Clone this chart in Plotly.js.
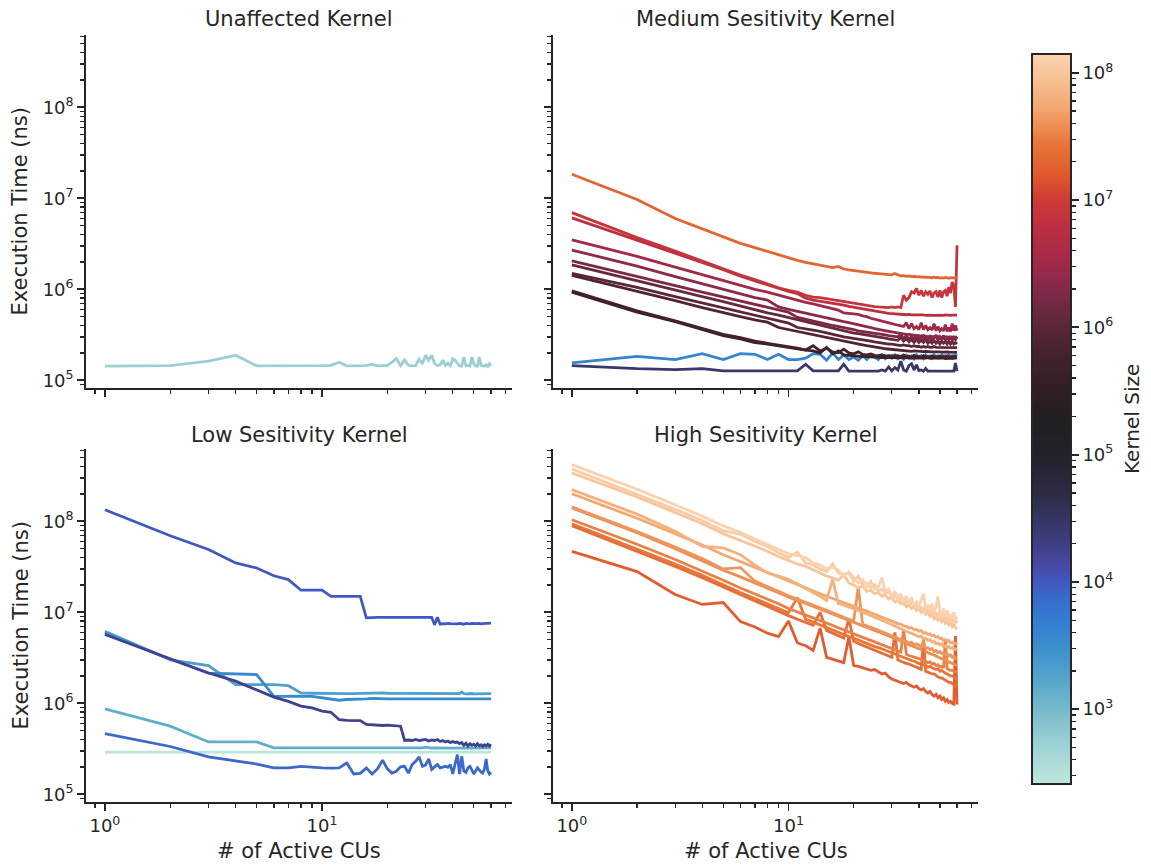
<!DOCTYPE html>
<html>
<head>
<meta charset="utf-8">
<script src="https://cdn.plot.ly/plotly-3.0.1.min.js"></script>
<style>
  html, body { margin: 0; padding: 0; background: #ffffff; }
  #chart { width: 1151px; height: 865px; }
</style>
</head>
<body>
<div id="chart"></div>
<script>
// Number of active compute units (x axis, shared by every series)
const CUS = [1,2,3,4,5,6,7,8,9,10,11,12,13,14,15,16,17,18,19,20,
             21,22,23,24,25,26,27,28,29,30,31,32,33,34,35,36,37,38,39,40,
             41,42,43,44,45,46,47,48,49,50,51,52,53,54,55,56,57,58,59,60];

// Kernel-size colour limits (log-scaled hue)
const KERNEL_MIN = 263;
const KERNEL_MAX = 1.38e8;

// ---------- Unaffected kernel ----------
const UNAFFECTED_SIZES = [560];
const U_560 = [1.43e5,1.45e5,1.62e5,1.88e5,1.44e5,1.44e5,1.43e5,1.44e5,1.44e5,1.45e5,
  1.46e5,1.58e5,1.44e5,1.44e5,1.46e5,1.45e5,1.50e5,1.44e5,1.45e5,1.45e5,
  1.58e5,1.73e5,1.45e5,1.67e5,1.46e5,1.44e5,1.45e5,1.71e5,1.52e5,1.88e5,
  1.66e5,1.88e5,1.52e5,1.45e5,1.48e5,1.66e5,1.46e5,1.54e5,1.45e5,1.73e5,
  1.66e5,1.52e5,1.44e5,1.43e5,1.80e5,1.44e5,1.46e5,1.43e5,1.80e5,1.52e5,
  1.44e5,1.43e5,1.80e5,1.46e5,1.44e5,1.43e5,1.48e5,1.42e5,1.52e5,1.44e5];

// ---------- Medium sensitivity kernels ----------
const MEDIUM_SIZES = [2.0e7, 8.0e6, 6.0e6, 3.2e6, 2.4e6, 1.8e6, 1.3e6, 1.0e6, 8.0e5, 6.0e5, 4.5e5, 4.0e3, 2.8e4];
const M_A = [1.84e7,9.7e6,6.0e6,4.6e6,3.8e6,3.2e6,2.87e6,2.6e6,2.37e6,2.2e6,
  2.08e6,1.98e6,1.9e6,1.82e6,1.76e6,1.73e6,1.78e6,1.67e6,1.63e6,1.6e6,
  1.58e6,1.55e6,1.53e6,1.51e6,1.5e6,1.49e6,1.48e6,1.46e6,1.45e6,1.44e6,
  1.49e6,1.43e6,1.4e6,1.41e6,1.39e6,1.4e6,1.38e6,1.39e6,1.37e6,1.38e6,
  1.36e6,1.37e6,1.35e6,1.36e6,1.35e6,1.34e6,1.36e6,1.34e6,1.35e6,1.33e6,
  1.34e6,1.33e6,1.35e6,1.33e6,1.32e6,1.34e6,1.33e6,1.32e6,1.33e6,1.34e6];
const M_B = [6.95e6,3.7e6,2.63e6,2.04e6,1.69e6,1.43e6,1.28e6,1.14e6,1.04e6,9.75e5,
  9.3e5,8.6e5,8.2e5,8.1e5,7.9e5,7.7e5,7.6e5,7.45e5,7.3e5,7.1e5,
  7.0e5,6.8e5,6.65e5,6.5e5,6.45e5,6.4e5,6.35e5,6.4e5,6.3e5,6.4e5,
  6.3e5,6.4e5,6.3e5,8.6e5,7.6e5,8.1e5,9.4e5,9.1e5,1.02e6,8.6e5,
  9.75e5,8.4e5,9.4e5,8.8e5,9.6e5,8.1e5,9.1e5,9.4e5,8.2e5,9.75e5,
  8.1e5,9.4e5,9.75e5,8.4e5,1.06e6,9.1e5,1.2e6,1.1e6,6.4e5,3.05e6];
const M_C = [6.1e6,3.45e6,2.5e6,1.98e6,1.64e6,1.39e6,1.24e6,1.11e6,1.02e6,9.5e5,
  8.97e5,8.0e5,7.6e5,7.4e5,7.2e5,7.0e5,6.85e5,6.7e5,6.5e5,6.35e5,
  6.2e5,6.1e5,6.0e5,5.87e5,5.8e5,5.7e5,5.6e5,5.5e5,5.45e5,5.41e5,
  5.35e5,5.3e5,5.32e5,5.28e5,5.25e5,5.3e5,5.22e5,5.24e5,5.2e5,5.25e5,
  5.2e5,5.22e5,5.18e5,5.24e5,5.2e5,5.18e5,5.22e5,5.18e5,5.2e5,5.17e5,
  5.2e5,5.18e5,5.22e5,5.17e5,5.19e5,5.17e5,5.2e5,5.18e5,5.19e5,5.2e5];
const M_D = [3.5e6,2.3e6,1.75e6,1.45e6,1.25e6,1.1e6,1.0e6,9.3e5,8.6e5,8.0e5,
  7.6e5,7.2e5,6.9e5,6.6e5,6.3e5,6.1e5,5.9e5,5.5e5,5.4e5,5.3e5,
  5.3e5,5.1e5,5.0e5,4.8e5,4.7e5,4.6e5,4.5e5,4.4e5,4.3e5,4.2e5,
  4.1e5,4.05e5,4.0e5,3.9e5,4.3e5,3.7e5,4.2e5,3.7e5,3.9e5,3.6e5,
  4.3e5,3.6e5,4.0e5,3.6e5,3.8e5,3.55e5,4.2e5,3.5e5,3.9e5,3.5e5,
  3.7e5,3.5e5,4.1e5,3.45e5,3.8e5,3.45e5,4.2e5,3.5e5,4.0e5,3.5e5];
const M_E = [2.7e6,1.8e6,1.38e6,1.15e6,1.0e6,8.9e5,8.1e5,7.6e5,6.4e5,6.0e5,
  5.7e5,5.4e5,5.2e5,5.0e5,4.8e5,4.65e5,4.5e5,4.4e5,4.3e5,4.2e5,
  4.1e5,4.0e5,3.9e5,3.8e5,3.7e5,3.65e5,3.6e5,3.5e5,3.45e5,3.4e5,
  3.35e5,3.3e5,3.3e5,3.25e5,3.2e5,3.2e5,3.15e5,3.15e5,3.1e5,3.1e5,
  3.05e5,3.1e5,3.05e5,3.0e5,3.05e5,3.0e5,3.0e5,3.05e5,3.0e5,3.0e5,
  2.98e5,3.0e5,2.98e5,3.0e5,2.97e5,3.0e5,2.98e5,2.97e5,3.0e5,2.98e5];
const M_F = [2.05e6,1.4e6,1.1e6,9.3e5,8.2e5,7.4e5,6.8e5,6.3e5,5.9e5,5.6e5,
  4.9e5,4.7e5,4.5e5,4.3e5,4.15e5,4.0e5,3.9e5,3.8e5,3.7e5,3.6e5,
  3.5e5,3.45e5,3.4e5,3.35e5,3.3e5,3.25e5,3.2e5,3.15e5,3.1e5,3.05e5,
  3.0e5,3.0e5,3.2e5,2.85e5,3.1e5,2.8e5,3.05e5,2.8e5,3.15e5,2.8e5,
  3.0e5,2.75e5,3.1e5,2.8e5,3.0e5,2.75e5,2.9e5,3.15e5,2.75e5,3.0e5,
  2.8e5,3.1e5,2.75e5,2.95e5,2.8e5,3.05e5,2.75e5,2.95e5,2.8e5,3.0e5];
const M_G = [1.85e6,1.25e6,9.8e5,8.3e5,7.3e5,6.5e5,6.0e5,5.5e5,5.2e5,4.9e5,
  4.6e5,4.4e5,4.2e5,4.0e5,3.85e5,3.7e5,3.6e5,3.5e5,3.4e5,3.3e5,
  3.25e5,3.2e5,3.15e5,3.1e5,3.05e5,3.0e5,2.95e5,2.9e5,2.85e5,2.8e5,
  2.8e5,2.75e5,2.95e5,2.7e5,2.85e5,2.65e5,2.8e5,2.6e5,2.85e5,2.6e5,
  2.75e5,2.6e5,2.8e5,2.55e5,2.7e5,2.55e5,2.75e5,2.55e5,2.7e5,2.5e5,
  2.7e5,2.55e5,2.65e5,2.5e5,2.7e5,2.5e5,2.65e5,2.5e5,2.6e5,2.5e5];
const M_H = [1.5e6,1.05e6,8.3e5,7.1e5,6.3e5,5.7e5,5.2e5,4.8e5,4.5e5,4.25e5,
  3.8e5,3.7e5,3.55e5,3.45e5,3.3e5,3.2e5,3.1e5,3.0e5,2.95e5,2.9e5,
  2.85e5,2.8e5,2.75e5,2.7e5,2.65e5,2.6e5,2.55e5,2.55e5,2.5e5,2.5e5,
  2.45e5,2.45e5,2.4e5,2.45e5,2.4e5,2.4e5,2.35e5,2.4e5,2.35e5,2.35e5,
  2.3e5,2.35e5,2.3e5,2.35e5,2.3e5,2.3e5,2.35e5,2.3e5,2.3e5,2.28e5,
  2.3e5,2.28e5,2.3e5,2.28e5,2.27e5,2.3e5,2.28e5,2.27e5,2.3e5,2.28e5];
const M_I = [1.42e6,9.6e5,7.5e5,6.3e5,5.5e5,5.0e5,4.6e5,4.35e5,3.8e5,3.6e5,
  3.45e5,3.3e5,3.15e5,3.05e5,2.95e5,2.85e5,2.75e5,2.7e5,2.6e5,2.55e5,
  2.5e5,2.45e5,2.4e5,2.35e5,2.3e5,2.28e5,2.25e5,2.22e5,2.2e5,2.18e5,
  2.15e5,2.15e5,2.12e5,2.1e5,2.12e5,2.1e5,2.08e5,2.1e5,2.08e5,2.07e5,
  2.08e5,2.06e5,2.07e5,2.05e5,2.07e5,2.05e5,2.05e5,2.06e5,2.04e5,2.05e5,
  2.04e5,2.05e5,2.03e5,2.05e5,2.04e5,2.03e5,2.05e5,2.03e5,2.04e5,2.03e5];
const M_J = [9.6e5,5.8e5,4.5e5,3.7e5,3.2e5,2.95e5,2.7e5,2.55e5,2.45e5,2.35e5,
  2.25e5,2.15e5,2.4e5,2.1e5,2.25e5,2.05e5,2.0e5,2.2e5,2.0e5,1.95e5,
  2.05e5,1.92e5,1.9e5,1.95e5,1.88e5,1.87e5,1.9e5,1.85e5,1.85e5,1.84e5,
  1.83e5,1.86e5,1.82e5,1.9e5,1.81e5,1.85e5,1.8e5,1.88e5,1.8e5,1.84e5,
  1.79e5,1.86e5,1.8e5,1.83e5,1.79e5,1.85e5,1.8e5,1.82e5,1.79e5,1.84e5,
  1.8e5,1.83e5,1.79e5,1.85e5,1.8e5,1.82e5,1.79e5,1.84e5,1.8e5,1.82e5];
const M_K = [9.3e5,5.6e5,4.4e5,3.6e5,3.1e5,2.85e5,2.6e5,2.5e5,2.38e5,2.3e5,
  2.22e5,2.14e5,2.1e5,2.0e5,2.3e5,1.95e5,2.1e5,1.9e5,1.88e5,1.85e5,
  1.85e5,1.82e5,1.82e5,1.8e5,1.8e5,1.78e5,1.78e5,1.77e5,1.77e5,1.76e5,
  1.76e5,1.78e5,1.75e5,1.77e5,1.75e5,1.76e5,1.74e5,1.77e5,1.75e5,1.76e5,
  1.74e5,1.76e5,1.75e5,1.77e5,1.74e5,1.75e5,1.74e5,1.76e5,1.74e5,1.75e5,
  1.74e5,1.76e5,1.73e5,1.75e5,1.74e5,1.75e5,1.73e5,1.75e5,1.74e5,1.75e5];
const M_L = [1.55e5,1.83e5,1.69e5,1.96e5,1.69e5,1.96e5,1.93e5,1.69e5,1.93e5,1.69e5,
  1.69e5,1.75e5,1.96e5,1.93e5,1.66e5,2.0e5,1.69e5,1.9e5,1.69e5,1.8e5,
  1.66e5,1.86e5,1.69e5,1.9e5,1.8e5,1.69e5,1.9e5,1.72e5,1.86e5,1.75e5,
  1.9e5,1.72e5,1.83e5,1.7e5,1.88e5,1.75e5,1.85e5,1.72e5,1.9e5,1.78e5,
  1.86e5,1.74e5,1.9e5,1.8e5,1.85e5,1.75e5,1.9e5,1.8e5,1.86e5,1.78e5,
  1.9e5,1.82e5,1.86e5,1.8e5,1.9e5,1.82e5,1.87e5,1.8e5,1.9e5,1.84e5];
const M_M = [1.45e5,1.34e5,1.31e5,1.34e5,1.27e5,1.27e5,1.27e5,1.27e5,1.27e5,1.27e5,
  1.27e5,1.5e5,1.27e5,1.27e5,1.27e5,1.27e5,1.27e5,1.5e5,1.26e5,1.26e5,
  1.26e5,1.26e5,1.26e5,1.26e5,1.26e5,1.26e5,1.3e5,1.26e5,1.4e5,1.27e5,
  1.38e5,1.3e5,1.62e5,1.3e5,1.26e5,1.45e5,1.52e5,1.3e5,1.48e5,1.28e5,
  1.3e5,1.26e5,1.35e5,1.26e5,1.26e5,1.27e5,1.26e5,1.26e5,1.27e5,1.26e5,
  1.26e5,1.27e5,1.26e5,1.26e5,1.26e5,1.27e5,1.26e5,1.26e5,1.55e5,1.26e5];
const MEDIUM_SERIES = [M_A, M_B, M_C, M_D, M_E, M_F, M_G, M_H, M_I, M_J, M_K, M_L, M_M];

// ---------- Low sensitivity kernels ----------
const LOW_SIZES = [1.0e4, 2.0e3, 3.5e3, 1.8e4, 1.4e3, 280, 7.5e3];
const L_A = [1.34e8,6.95e7,4.9e7,3.49e7,3.07e7,2.52e7,2.29e7,1.75e7,1.75e7,1.75e7,
  1.5e7,1.5e7,1.5e7,1.5e7,1.5e7,8.7e6,8.8e6,8.8e6,8.8e6,8.8e6,
  8.8e6,8.85e6,8.8e6,8.85e6,8.85e6,8.8e6,8.8e6,8.85e6,8.8e6,8.8e6,
  8.75e6,8.8e6,7.3e6,8.8e6,7.4e6,7.5e6,7.45e6,7.55e6,7.5e6,7.45e6,
  7.5e6,7.45e6,7.55e6,7.5e6,7.4e6,7.55e6,7.5e6,7.45e6,7.55e6,7.5e6,
  7.45e6,7.5e6,7.55e6,7.45e6,7.5e6,7.55e6,7.5e6,7.6e6,7.55e6,7.6e6];
const L_B = [6.2e6,3.0e6,2.6e6,1.6e6,1.6e6,1.6e6,1.56e6,1.3e6,1.29e6,1.28e6,
  1.28e6,1.27e6,1.28e6,1.28e6,1.29e6,1.3e6,1.3e6,1.3e6,1.3e6,1.29e6,
  1.29e6,1.28e6,1.28e6,1.29e6,1.28e6,1.28e6,1.29e6,1.28e6,1.28e6,1.27e6,
  1.28e6,1.28e6,1.28e6,1.27e6,1.28e6,1.28e6,1.27e6,1.28e6,1.28e6,1.27e6,
  1.28e6,1.27e6,1.28e6,1.33e6,1.28e6,1.27e6,1.28e6,1.27e6,1.28e6,1.27e6,
  1.27e6,1.28e6,1.27e6,1.27e6,1.28e6,1.27e6,1.27e6,1.28e6,1.27e6,1.28e6];
const L_C = [5.95e6,3.05e6,2.15e6,2.1e6,2.07e6,1.19e6,1.2e6,1.2e6,1.19e6,1.15e6,
  1.12e6,1.08e6,1.1e6,1.1e6,1.12e6,1.12e6,1.13e6,1.12e6,1.12e6,1.12e6,
  1.12e6,1.13e6,1.12e6,1.12e6,1.12e6,1.13e6,1.12e6,1.12e6,1.12e6,1.12e6,
  1.13e6,1.12e6,1.12e6,1.12e6,1.12e6,1.12e6,1.13e6,1.12e6,1.12e6,1.12e6,
  1.12e6,1.12e6,1.13e6,1.12e6,1.12e6,1.12e6,1.12e6,1.12e6,1.13e6,1.12e6,
  1.12e6,1.12e6,1.12e6,1.12e6,1.13e6,1.12e6,1.12e6,1.12e6,1.12e6,1.12e6];
const L_D = [5.7e6,3.1e6,2.15e6,1.75e6,1.41e6,1.17e6,1.05e6,9.3e5,8.9e5,8.2e5,
  7.96e5,6.6e5,6.5e5,6.5e5,6.45e5,5.87e5,5.8e5,5.8e5,5.7e5,5.75e5,
  5.7e5,5.75e5,5.6e5,3.9e5,3.95e5,3.9e5,4.0e5,3.9e5,3.95e5,4.0e5,
  3.85e5,3.95e5,3.9e5,4.0e5,3.8e5,3.9e5,3.75e5,3.85e5,3.7e5,3.8e5,
  3.7e5,3.75e5,3.6e5,3.7e5,3.45e5,3.65e5,3.4e5,3.6e5,3.45e5,3.55e5,
  3.4e5,3.6e5,3.4e5,3.5e5,3.35e5,3.5e5,3.4e5,3.55e5,3.4e5,3.55e5];
const L_E = [8.7e5,5.6e5,3.76e5,3.76e5,3.76e5,3.23e5,3.23e5,3.22e5,3.23e5,3.22e5,
  3.22e5,3.23e5,3.22e5,3.22e5,3.23e5,3.22e5,3.22e5,3.23e5,3.22e5,3.22e5,
  3.23e5,3.22e5,3.22e5,3.23e5,3.22e5,3.22e5,3.23e5,3.22e5,3.24e5,3.3e5,
  3.25e5,3.22e5,3.23e5,3.22e5,3.22e5,3.23e5,3.22e5,3.22e5,3.23e5,3.22e5,
  3.22e5,3.23e5,3.22e5,3.22e5,3.23e5,3.22e5,3.22e5,3.23e5,3.22e5,3.22e5,
  3.23e5,3.22e5,3.22e5,3.23e5,3.22e5,3.22e5,3.23e5,3.22e5,3.22e5,3.23e5];
const L_F = [2.9e5,2.9e5,2.9e5,2.9e5,2.9e5,2.9e5,2.9e5,2.9e5,2.9e5,2.9e5,
  2.9e5,2.9e5,2.9e5,2.9e5,2.9e5,2.9e5,2.9e5,2.9e5,2.9e5,2.9e5,
  2.9e5,2.9e5,2.9e5,2.9e5,2.9e5,2.9e5,2.9e5,2.9e5,2.9e5,2.9e5,
  2.9e5,2.9e5,2.9e5,2.9e5,2.9e5,2.9e5,2.9e5,2.9e5,2.9e5,2.9e5,
  2.9e5,2.9e5,2.9e5,2.9e5,2.9e5,2.9e5,2.9e5,2.9e5,2.9e5,2.9e5,
  2.9e5,2.9e5,2.9e5,2.9e5,2.9e5,2.9e5,2.9e5,2.9e5,2.9e5,2.9e5];
const L_G = [4.65e5,3.35e5,2.57e5,2.3e5,2.15e5,1.95e5,1.95e5,2.03e5,1.98e5,1.95e5,
  1.94e5,1.95e5,2.21e5,1.67e5,1.7e5,1.95e5,1.67e5,1.9e5,2.37e5,1.9e5,
  1.71e5,1.79e5,2.0e5,2.03e5,1.71e5,2.12e5,2.3e5,2.57e5,2.03e5,2.1e5,
  2.45e5,1.87e5,2.0e5,2.12e5,1.95e5,2.0e5,2.03e5,1.98e5,2.12e5,1.67e5,
  2.2e5,2.73e5,1.67e5,2.62e5,1.8e5,1.74e5,1.95e5,2.03e5,1.85e5,1.67e5,
  1.8e5,1.95e5,1.85e5,1.75e5,1.71e5,1.9e5,2.45e5,1.8e5,1.67e5,1.75e5];
const LOW_SERIES = [L_A, L_B, L_C, L_D, L_E, L_F, L_G];

// ---------- High sensitivity kernels ----------
const HIGH_SIZES = [1.35e8, 1.15e8, 9.5e7, 6.5e7, 5.5e7, 4.2e7, 3.8e7, 3.2e7, 2.8e7, 2.4e7, 1.7e7];
const H_A = [4.2e8,2.25e8,1.52e8,1.14e8,8.9e7,7.6e7,6.4e7,5.6e7,4.9e7,4.4e7,
  4.2e7,4.0e7,3.5e7,3.3e7,3.0e7,3.2e7,2.9e7,2.5e7,2.8e7,2.4e7,
  2.1e7,2.3e7,1.9e7,2.2e7,1.8e7,1.9e7,2.4e7,1.7e7,1.8e7,1.5e7,
  1.7e7,1.45e7,1.6e7,1.3e7,1.5e7,1.25e7,1.45e7,1.2e7,1.3e7,1.15e7,
  1.35e7,1.6e7,1.1e7,1.2e7,1.05e7,1.25e7,1.0e7,1.15e7,1.5e7,1.0e7,
  9.5e6,1.1e7,9.0e6,1.05e7,8.8e6,9.5e6,8.5e6,1.0e7,8.2e6,9.0e6];
const H_B = [3.76e8,2.0e8,1.36e8,1.02e8,7.9e7,7.2e7,6.0e7,5.3e7,4.5e7,4.0e7,
  4.6e7,3.5e7,3.3e7,3.0e7,2.8e7,3.4e7,2.7e7,2.6e7,2.7e7,2.2e7,
  2.5e7,2.0e7,2.1e7,1.85e7,2.0e7,1.7e7,1.8e7,1.6e7,1.75e7,1.4e7,
  1.55e7,1.35e7,1.45e7,1.25e7,1.35e7,1.2e7,1.3e7,1.1e7,1.25e7,1.05e7,
  1.15e7,1.0e7,1.2e7,9.8e6,1.1e7,9.5e6,1.05e7,9.0e6,1.0e7,8.8e6,
  9.8e6,8.5e6,9.5e6,8.0e6,9.0e6,7.8e6,8.5e6,7.5e6,8.2e6,7.6e6];
const H_C = [3.4e8,1.85e8,1.25e8,9.4e7,7.3e7,6.2e7,5.4e7,4.7e7,4.1e7,3.7e7,
  3.4e7,3.2e7,2.9e7,2.7e7,2.5e7,2.4e7,2.25e7,2.6e7,2.1e7,2.0e7,
  1.85e7,1.95e7,1.7e7,1.75e7,1.6e7,1.65e7,1.5e7,1.55e7,1.4e7,1.45e7,
  1.3e7,1.35e7,1.25e7,1.3e7,1.15e7,1.2e7,1.1e7,1.15e7,1.05e7,1.1e7,
  1.0e7,1.05e7,9.5e6,1.0e7,9.0e6,9.5e6,8.5e6,9.0e6,8.2e6,8.6e6,
  7.9e6,8.3e6,7.6e6,8.0e6,7.3e6,7.7e6,7.0e6,7.4e6,6.8e6,6.5e6];
const H_D = [2.23e8,1.2e8,7.8e7,5.3e7,5.1e7,4.3e7,3.3e7,2.7e7,2.5e7,2.3e7,
  2.05e7,1.85e7,1.65e7,1.5e7,1.35e7,2.3e7,1.25e7,1.2e7,1.15e7,1.1e7,
  1.05e7,1.0e7,9.6e6,9.2e6,8.8e6,8.6e6,8.2e6,7.9e6,7.6e6,7.3e6,
  7.1e6,6.8e6,6.6e6,6.4e6,6.2e6,6.0e6,5.9e6,5.7e6,5.6e6,5.4e6,
  5.5e6,5.1e6,5.2e6,4.9e6,5.0e6,4.7e6,4.8e6,4.5e6,4.6e6,4.4e6,
  4.5e6,4.2e6,4.3e6,4.1e6,4.2e6,4.0e6,4.1e6,3.9e6,4.0e6,3.8e6];
const H_E = [2.01e8,1.08e8,7.3e7,5.5e7,4.3e7,3.6e7,3.1e7,2.75e7,2.45e7,2.2e7,
  2.0e7,1.85e7,1.7e7,1.6e7,1.5e7,1.42e7,1.35e7,1.28e7,1.22e7,1.16e7,
  1.12e7,1.07e7,1.03e7,9.9e6,9.5e6,9.2e6,8.8e6,8.6e6,8.3e6,8.0e6,
  7.8e6,7.5e6,7.4e6,7.1e6,7.0e6,6.7e6,6.8e6,6.4e6,6.5e6,6.2e6,
  6.3e6,5.9e6,6.0e6,5.7e6,5.8e6,5.5e6,5.6e6,5.3e6,5.4e6,5.1e6,
  5.2e6,4.9e6,5.0e6,4.8e6,4.9e6,4.6e6,4.7e6,4.5e6,4.6e6,4.4e6];
const H_F = [1.44e8,7.7e7,5.2e7,3.9e7,3.0e7,3.1e7,2.2e7,1.9e7,1.7e7,1.52e7,
  1.4e7,1.3e7,1.2e7,1.12e7,1.05e7,9.8e6,9.3e6,8.8e6,8.4e6,8.0e6,
  1.9e7,7.4e6,7.1e6,6.8e6,6.5e6,6.3e6,6.0e6,5.9e6,5.7e6,5.5e6,
  5.3e6,5.2e6,5.0e6,4.9e6,4.8e6,4.6e6,4.7e6,4.4e6,4.5e6,4.3e6,
  4.2e6,4.3e6,4.0e6,4.1e6,3.9e6,4.0e6,3.7e6,3.8e6,3.6e6,3.7e6,
  3.5e6,3.6e6,3.4e6,3.5e6,3.3e6,3.4e6,3.2e6,3.3e6,3.1e6,3.2e6];
const H_G = [1.40e8,7.5e7,5.0e7,3.7e7,2.9e7,2.45e7,2.1e7,1.85e7,1.63e7,1.46e7,
  1.34e7,1.25e7,1.16e7,1.08e7,1.01e7,9.5e6,9.0e6,8.5e6,8.1e6,7.7e6,
  7.3e6,7.1e6,6.8e6,6.5e6,6.3e6,6.1e6,5.9e6,5.7e6,5.5e6,5.3e6,
  5.1e6,5.0e6,4.8e6,4.7e6,4.5e6,4.4e6,4.3e6,4.2e6,4.1e6,4.0e6,
  3.9e6,5.0e6,3.7e6,3.6e6,3.5e6,3.45e6,3.4e6,3.3e6,3.2e6,3.15e6,
  3.1e6,3.0e6,3.0e6,2.9e6,2.85e6,2.8e6,2.75e6,2.7e6,2.65e6,2.6e6];
const H_H = [1.04e8,5.6e7,3.8e7,2.85e7,2.25e7,1.85e7,1.6e7,1.4e7,1.24e7,1.1e7,
  1.0e7,9.3e6,8.7e6,8.1e6,7.6e6,7.1e6,6.7e6,6.4e6,6.0e6,5.8e6,
  5.5e6,5.3e6,5.1e6,4.9e6,4.7e6,4.6e6,4.4e6,4.3e6,4.15e6,4.0e6,
  3.9e6,3.75e6,3.65e6,6.5e6,3.45e6,3.35e6,3.3e6,3.2e6,3.15e6,3.1e6,
  3.0e6,2.95e6,2.9e6,2.8e6,2.85e6,2.7e6,2.75e6,2.6e6,2.65e6,2.5e6,
  2.55e6,2.45e6,5.0e6,2.4e6,2.35e6,2.3e6,2.3e6,2.25e6,2.2e6,2.2e6];
const H_I = [9.4e7,5.0e7,3.4e7,2.55e7,2.0e7,1.65e7,1.42e7,1.25e7,1.1e7,9.9e6,
  1.45e7,8.4e6,7.8e6,7.2e6,6.8e6,6.4e6,6.0e6,5.7e6,5.4e6,5.2e6,
  4.95e6,4.75e6,4.55e6,4.4e6,4.2e6,4.1e6,3.95e6,3.85e6,3.7e6,3.6e6,
  3.45e6,3.35e6,3.3e6,3.2e6,3.1e6,3.0e6,2.95e6,2.9e6,2.8e6,2.75e6,
  2.7e6,2.65e6,2.6e6,2.5e6,2.55e6,2.45e6,2.4e6,2.35e6,2.4e6,2.25e6,
  2.3e6,2.2e6,2.15e6,2.1e6,2.05e6,2.0e6,2.0e6,1.95e6,1.9e6,1.8e6];
const H_J = [8.96e7,4.7e7,3.2e7,2.4e7,1.9e7,1.55e7,1.32e7,1.16e7,1.03e7,9.2e6,
  8.4e6,7.8e6,7.2e6,1.0e7,6.3e6,5.9e6,5.5e6,5.2e6,8.5e6,4.8e6,
  4.55e6,4.35e6,4.2e6,4.0e6,3.85e6,3.7e6,3.55e6,3.45e6,3.3e6,3.2e6,
  6.0e6,3.0e6,2.9e6,2.85e6,2.75e6,2.7e6,2.6e6,2.55e6,2.5e6,2.4e6,
  2.35e6,5.0e6,2.25e6,2.2e6,2.15e6,2.1e6,2.1e6,2.0e6,1.95e6,1.9e6,
  1.9e6,1.85e6,1.8e6,1.75e6,1.7e6,1.7e6,1.65e6,1.6e6,1.6e6,1.5e6];
const H_K = [4.68e7,2.8e7,1.57e7,1.22e7,1.28e7,7.9e6,6.9e6,5.9e6,5.4e6,8.0e6,
  4.6e6,4.3e6,3.8e6,6.7e6,3.2e6,3.05e6,2.9e6,2.8e6,5.4e6,2.6e6,
  2.55e6,2.45e6,2.4e6,2.3e6,2.35e6,2.2e6,2.1e6,2.15e6,1.95e6,1.85e6,
  1.8e6,1.75e6,1.7e6,1.65e6,1.7e6,1.6e6,1.55e6,1.5e6,1.55e6,1.45e6,
  1.4e6,1.45e6,1.35e6,1.3e6,1.35e6,1.25e6,1.2e6,1.25e6,1.15e6,1.2e6,
  1.1e6,1.15e6,1.05e6,1.1e6,1.02e6,1.05e6,1.0e6,9.8e5,5.5e6,9.7e5];
const HIGH_SERIES = [H_A, H_B, H_C, H_D, H_E, H_F, H_G, H_H, H_I, H_J, H_K];

// Tick labels
const X_TICKS = [1, 10];
const X_TICK_TEXT = ['10<sup>0</sup>', '10<sup>1</sup>'];
const Y_TICKS = [1e5, 1e6, 1e7, 1e8];
const Y_TICK_TEXT = ['10<sup>5</sup>', '10<sup>6</sup>', '10<sup>7</sup>', '10<sup>8</sup>'];
const CB_TICKS = [3, 4, 5, 6, 7, 8];
const CB_TICK_TEXT = ['10<sup>3</sup>', '10<sup>4</sup>', '10<sup>5</sup>', '10<sup>6</sup>', '10<sup>7</sup>', '10<sup>8</sup>'];

// Diverging ice/fire palette used for the kernel-size hue (position, colour)
const ICEFIRE = [
  [0.000, '#bde7dc'], [0.049, '#a0d4d5'], [0.093, '#7dbdcc'], [0.136, '#5aa9cb'],
  [0.171, '#4497cc'], [0.206, '#3584d0'], [0.241, '#3574d0'], [0.276, '#4158c3'],
  [0.302, '#4648a0'], [0.346, '#3a3a73'], [0.399, '#2b2b44'], [0.451, '#22222a'],
  [0.486, '#1f1f22'], [0.538, '#2f1f23'], [0.591, '#45222c'], [0.643, '#66283d'],
  [0.678, '#82294a'], [0.713, '#a02a48'], [0.766, '#be2f42'], [0.801, '#cf3a36'],
  [0.836, '#e05a2d'], [0.879, '#e8763a'], [0.923, '#f2a36b'], [0.965, '#f7c094'],
  [1.000, '#fbd3b0']
];

const LOG_MIN = Math.log10(KERNEL_MIN);
const LOG_MAX = Math.log10(KERNEL_MAX);

function hexToRgb(h) {
  return [parseInt(h.slice(1, 3), 16), parseInt(h.slice(3, 5), 16), parseInt(h.slice(5, 7), 16)];
}
function colorFor(size) {
  let t = (Math.log10(size) - LOG_MIN) / (LOG_MAX - LOG_MIN);
  t = Math.max(0, Math.min(1, t));
  for (let i = 1; i < ICEFIRE.length; i++) {
    if (t <= ICEFIRE[i][0]) {
      const [t0, c0] = ICEFIRE[i - 1];
      const [t1, c1] = ICEFIRE[i];
      const f = (t - t0) / (t1 - t0);
      const a = hexToRgb(c0), b = hexToRgb(c1);
      const rgb = a.map((v, k) => Math.round(v + (b[k] - v) * f));
      return `rgb(${rgb[0]},${rgb[1]},${rgb[2]})`;
    }
  }
  return ICEFIRE[ICEFIRE.length - 1][1];
}

const traces = [];
function addPanel(sizes, series, xa, ya) {
  const order = sizes.map((s, i) => i).sort((a, b) => sizes[a] - sizes[b]);
  order.forEach(i => {
    traces.push({
      type: 'scatter', mode: 'lines', x: CUS, y: series[i],
      xaxis: xa, yaxis: ya,
      line: { color: colorFor(sizes[i]), width: 2.8 },
      hoverinfo: 'skip', showlegend: false
    });
  });
}
addPanel(UNAFFECTED_SIZES, [U_560], 'x', 'y');
addPanel(MEDIUM_SIZES, MEDIUM_SERIES, 'x2', 'y2');
addPanel(LOW_SIZES, LOW_SERIES, 'x3', 'y3');
addPanel(HIGH_SIZES, HIGH_SERIES, 'x4', 'y4');

// Colour bar drawn as a one-column gradient on its own axis
const cbSteps = [];
for (let i = 0; i <= 400; i++) cbSteps.push(LOG_MIN + (LOG_MAX - LOG_MIN) * i / 400);
traces.push({
  type: 'heatmap', x: [0], y: cbSteps, z: cbSteps.map(v => [v]),
  zmin: LOG_MIN, zmax: LOG_MAX,
  colorscale: ICEFIRE, showscale: false,
  xaxis: 'x5', yaxis: 'y5', hoverinfo: 'skip'
});

// Minor tick positions
const xMinor = [];
[0.1, 1, 10].forEach(d => { for (let k = 2; k <= 9; k++) xMinor.push(k * d); });
const yMinor = [];
for (let e = 4; e <= 8; e++) for (let k = 2; k <= 9; k++) yMinor.push(k * Math.pow(10, e));
const cbMinor = [];
for (let e = 2; e <= 8; e++) for (let k = 2; k <= 9; k++) cbMinor.push(Math.log10(k * Math.pow(10, e)));

const INK = '#262626';
const FONT = 'DejaVu Sans, Verdana, sans-serif';
const TICK_SIZE = 18;

const baseAxis = {
  showline: true, linecolor: INK, linewidth: 1.8,
  ticks: 'outside', ticklen: 7, tickwidth: 1.8, tickcolor: INK,
  showgrid: false, zeroline: false, mirror: false,
  tickfont: { family: FONT, size: TICK_SIZE, color: INK },
  fixedrange: true
};
function xAxis(domain, anchor, labels) {
  return Object.assign({}, baseAxis, {
    type: 'log', domain, anchor, range: [-0.087, 1.875],
    tickmode: 'array', tickvals: X_TICKS, ticktext: X_TICK_TEXT, showticklabels: labels,
    minor: { tickmode: 'array', tickvals: xMinor, ticks: 'outside', ticklen: 4, tickwidth: 1.3, tickcolor: INK, showgrid: false }
  });
}
function yAxis(domain, anchor, labels) {
  return Object.assign({}, baseAxis, {
    type: 'log', domain, anchor, range: [4.915, 8.795],
    tickmode: 'array', tickvals: Y_TICKS, ticktext: Y_TICK_TEXT, showticklabels: labels,
    minor: { tickmode: 'array', tickvals: yMinor, ticks: 'outside', ticklen: 4, tickwidth: 1.3, tickcolor: INK, showgrid: false }
  });
}

const W = 1151, H = 865;
const colL = [86 / W, 512 / W];
const colR = [553 / W, 978 / W];
const rowT = [1 - 388 / H, 1 - 35 / H];
const rowB = [1 - 802 / H, 1 - 449 / H];

function note(text, x, y, angle, size) {
  return { text, x, y, xref: 'paper', yref: 'paper', showarrow: false,
           xanchor: 'center', yanchor: 'middle', textangle: angle || 0,
           font: { family: FONT, size: size || 21, color: INK } };
}

const layout = {
  width: W, height: H, autosize: false,
  margin: { l: 0, r: 0, t: 0, b: 0, pad: 0 },
  paper_bgcolor: '#ffffff', plot_bgcolor: 'rgba(0,0,0,0)',
  showlegend: false, hovermode: false,
  font: { family: FONT, color: INK },
  xaxis: xAxis(colL, 'y', false),
  yaxis: yAxis(rowT, 'x', true),
  xaxis2: xAxis(colR, 'y2', false),
  yaxis2: yAxis(rowT, 'x2', false),
  xaxis3: xAxis(colL, 'y3', true),
  yaxis3: yAxis(rowB, 'x3', true),
  xaxis4: xAxis(colR, 'y4', true),
  yaxis4: yAxis(rowB, 'x4', false),
  xaxis5: {
    domain: [1033 / W, 1070 / W], anchor: 'y5', range: [-0.5, 0.5],
    showline: true, mirror: true, linecolor: INK, linewidth: 1.8,
    ticks: '', showticklabels: false, showgrid: false, zeroline: false, fixedrange: true
  },
  yaxis5: {
    domain: [1 - 783 / H, 1 - 55 / H], anchor: 'x5', side: 'right', range: [LOG_MIN, LOG_MAX],
    showline: true, mirror: true, linecolor: INK, linewidth: 1.8,
    ticks: 'outside', ticklen: 7, tickwidth: 1.8, tickcolor: INK,
    tickmode: 'array', tickvals: CB_TICKS, ticktext: CB_TICK_TEXT,
    tickfont: { family: FONT, size: TICK_SIZE, color: INK },
    minor: { tickmode: 'array', tickvals: cbMinor, ticks: 'outside', ticklen: 4, tickwidth: 1.3, tickcolor: INK, showgrid: false },
    showgrid: false, zeroline: false, fixedrange: true
  },
  annotations: [
    note('Unaffected Kernel', (colL[0] + colL[1]) / 2, 1 - 19 / H),
    note('Medium Sesitivity Kernel', (colR[0] + colR[1]) / 2, 1 - 19 / H),
    note('Low Sesitivity Kernel', (colL[0] + colL[1]) / 2, 1 - 435 / H),
    note('High Sesitivity Kernel', (colR[0] + colR[1]) / 2, 1 - 435 / H),
    note('Execution Time (ns)', 20 / W, 1 - 211.5 / H, -90),
    note('Execution Time (ns)', 20 / W, 1 - 625.5 / H, -90),
    note('# of Active CUs', (colL[0] + colL[1]) / 2, 1 - 851 / H),
    note('# of Active CUs', (colR[0] + colR[1]) / 2, 1 - 851 / H),
    note('Kernel Size', 1132 / W, 1 - 419 / H, -90, 20)
  ]
};

Plotly.newPlot('chart', traces, layout, { displayModeBar: false, staticPlot: true });
</script>
</body>
</html>
